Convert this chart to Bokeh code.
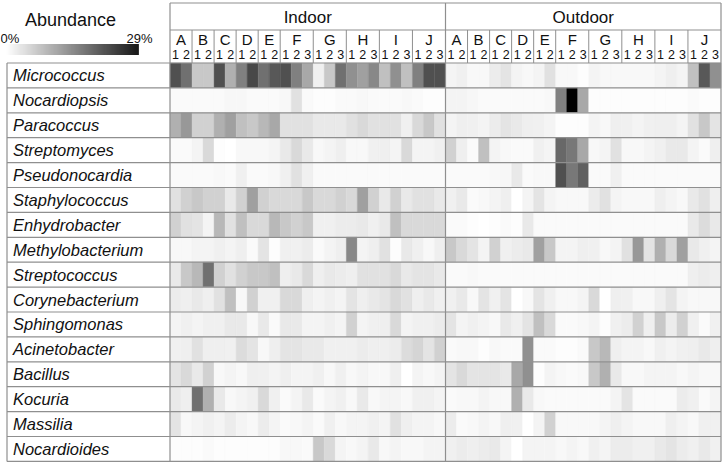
import numpy as np
from bokeh.plotting import figure
from bokeh.models import Range1d, ColumnDataSource, LinearColorMapper
from bokeh.transform import transform
from bokeh.core.properties import value
from bokeh.embed import file_html
from bokeh.resources import INLINE

# ---------------- data ----------------
environments = ["Indoor", "Outdoor"]
sites = ["A", "B", "C", "D", "E", "F", "G", "H", "I", "J"]
replicates = [2, 2, 2, 2, 2, 3, 3, 3, 3, 3]
scale_min, scale_max = 0, 29
scale_labels = ["0%", "29%"]
legend_title = "Abundance"

genera = ["Micrococcus", "Nocardiopsis", "Paracoccus", "Streptomyces", "Pseudonocardia",
          "Staphylococcus", "Enhydrobacter", "Methylobacterium", "Streptococcus",
          "Corynebacterium", "Sphingomonas", "Acinetobacter", "Bacillus", "Kocuria",
          "Massilia", "Nocardioides"]

# abundance (%) per sample: A1 A2 B1 B2 C1 C2 D1 D2 E1 E2 F1 F2 F3 G1 G2 G3 H1 H2 H3 I1 I2 I3 J1 J2 J3
micrococcus_in = [19.9, 16.3, 6.3, 6.3, 19.9, 9.0, 14.4, 20.8, 16.3, 19.0, 19.9, 14.4, 9.9, 1.7, 6.3, 16.3, 12.6, 10.8, 13.5, 7.2, 12.6, 7.2, 14.4, 19.9, 19.9]
micrococcus_out = [1.3, 1.7, 0.8, 0.8, 2.2, 3.1, 1.3, 0.8, 1.3, 3.5, 0.8, 0.8, 0.3, 1.3, 0.8, 0.8, 0.8, 0.8, 0.8, 1.3, 1.9, 1.3, 7.2, 19.0, 12.6]
nocardiopsis_in = [0.6, 0.6, 0.6, 0.6, 0.6, 1.0, 1.0, 0.6, 0.6, 0.6, 0.8, 3.5, 0.6, 0.3, 0.3, 0.6, 0.6, 0.8, 0.6, 0.6, 0.6, 0.8, 0.6, 0.3, 0.3]
nocardiopsis_out = [1.3, 1.3, 1.0, 0.6, 0.6, 0.6, 0.6, 0.6, 0.6, 0.8, 14.4, 29.0, 9.9, 0.3, 0.3, 0.3, 0.3, 0.3, 0.3, 0.3, 0.3, 0.3, 0.6, 0.3, 0.3]
paracoccus_in = [9.0, 11.7, 5.3, 5.3, 9.0, 10.8, 7.2, 6.3, 8.1, 9.9, 3.5, 3.5, 3.5, 2.6, 2.6, 2.6, 3.5, 4.4, 3.5, 3.5, 3.5, 1.7, 4.4, 6.3, 3.5]
paracoccus_out = [1.3, 1.9, 1.7, 1.3, 2.2, 3.1, 2.6, 1.9, 1.7, 1.3, 0.3, 0.3, 0.3, 1.3, 0.8, 1.9, 1.7, 1.3, 1.7, 1.9, 1.9, 1.3, 3.5, 6.3, 3.1]
streptomyces_in = [0.6, 0.6, 1.3, 4.4, 0.3, 0.1, 0.8, 0.8, 0.8, 1.3, 2.6, 4.4, 2.6, 0.8, 1.3, 1.9, 0.8, 0.8, 1.7, 1.9, 1.3, 4.4, 1.3, 1.3, 1.7]
streptomyces_out = [5.3, 1.9, 0.6, 7.2, 1.3, 0.8, 0.6, 0.6, 1.7, 1.3, 17.2, 15.4, 9.9, 0.8, 1.3, 3.5, 0.8, 0.8, 1.3, 1.7, 2.6, 2.6, 1.3, 0.6, 1.9]
pseudonocardia_in = [0.6, 0.6, 0.6, 0.6, 0.8, 0.6, 1.7, 0.6, 0.6, 0.8, 1.7, 3.5, 1.7, 0.6, 0.6, 0.6, 0.6, 0.6, 0.6, 0.6, 0.6, 0.6, 0.6, 0.6, 0.6]
pseudonocardia_out = [0.6, 0.6, 0.6, 0.6, 0.8, 1.0, 2.6, 0.6, 0.8, 0.8, 19.9, 15.4, 18.1, 0.6, 0.6, 1.7, 0.6, 0.6, 0.6, 0.6, 0.6, 0.6, 0.6, 0.6, 0.6]
staphylococcus_in = [3.5, 5.3, 6.3, 5.3, 5.3, 2.6, 5.3, 10.8, 5.3, 4.4, 4.4, 4.4, 6.3, 4.4, 4.4, 5.3, 4.4, 10.8, 5.3, 2.6, 5.3, 2.6, 3.5, 3.5, 2.6]
staphylococcus_out = [1.7, 2.6, 0.6, 0.8, 1.3, 1.9, 0.1, 1.3, 3.1, 1.3, 0.8, 0.8, 0.8, 2.2, 3.5, 1.3, 0.8, 0.8, 0.8, 1.9, 1.3, 0.8, 2.6, 3.5, 1.9]
enhydrobacter_in = [5.3, 3.5, 3.1, 1.3, 8.1, 3.5, 7.2, 4.4, 4.4, 8.1, 6.3, 5.3, 6.3, 1.7, 1.7, 2.2, 2.2, 2.6, 1.7, 2.6, 7.2, 4.4, 4.4, 4.4, 4.4]
enhydrobacter_out = [0.6, 0.6, 0.3, 0.1, 0.3, 0.6, 0.3, 2.6, 0.6, 0.6, 0.6, 0.6, 0.6, 0.6, 0.6, 0.6, 0.6, 0.6, 0.6, 0.6, 0.6, 0.6, 2.6, 4.0, 2.6]
methylobacterium_in = [0.8, 0.8, 1.3, 1.3, 1.7, 1.3, 1.9, 0.6, 3.1, 0.3, 1.7, 1.7, 2.2, 0.6, 1.3, 1.9, 13.5, 1.3, 1.9, 3.5, 0.3, 2.6, 1.7, 0.8, 1.9]
methylobacterium_out = [6.3, 4.4, 3.1, 1.3, 5.3, 1.7, 2.2, 2.6, 10.8, 6.3, 1.3, 1.3, 1.9, 1.7, 0.8, 1.3, 3.5, 11.7, 3.1, 9.0, 4.4, 10.8, 2.6, 1.7, 1.3]
streptococcus_in = [2.6, 6.3, 8.1, 16.3, 5.3, 3.5, 5.3, 6.3, 6.3, 7.2, 1.9, 2.6, 4.4, 1.9, 2.6, 2.2, 1.9, 3.5, 3.5, 3.5, 4.4, 2.6, 3.1, 3.1, 2.6]
streptococcus_out = [0.6, 0.6, 0.8, 0.6, 0.6, 0.6, 0.6, 0.6, 0.6, 0.6, 0.6, 0.6, 0.6, 0.6, 0.6, 0.6, 0.6, 0.6, 0.6, 0.6, 0.6, 0.6, 1.9, 2.2, 1.9]
corynebacterium_in = [2.2, 1.9, 2.6, 1.9, 3.5, 7.2, 0.8, 5.3, 1.7, 1.7, 4.4, 4.4, 1.9, 1.3, 1.7, 1.3, 3.1, 1.9, 2.6, 3.1, 4.4, 3.5, 1.9, 2.6, 1.7]
corynebacterium_out = [1.7, 2.6, 0.8, 3.1, 1.7, 3.1, 0.1, 0.8, 3.1, 1.7, 0.8, 0.8, 1.3, 4.4, 0.1, 1.9, 1.7, 0.8, 0.8, 1.9, 3.1, 1.3, 0.8, 0.8, 0.8]
sphingomonas_in = [1.3, 1.7, 1.3, 1.7, 1.7, 2.6, 2.6, 0.8, 2.6, 0.6, 2.6, 2.6, 1.3, 1.3, 1.7, 1.3, 5.3, 1.3, 1.7, 1.9, 4.4, 1.3, 1.7, 1.7, 2.2]
sphingomonas_out = [3.1, 1.3, 1.7, 1.3, 0.8, 2.6, 1.7, 3.1, 7.2, 4.4, 0.6, 0.6, 0.8, 1.3, 0.3, 1.7, 2.2, 5.3, 1.9, 6.3, 2.2, 5.3, 1.7, 0.6, 1.7]
acinetobacter_in = [1.7, 1.9, 3.5, 1.9, 1.9, 1.7, 4.0, 3.1, 0.8, 1.9, 3.1, 3.1, 2.6, 2.6, 1.7, 1.7, 1.7, 2.2, 1.9, 1.9, 2.2, 4.0, 4.8, 3.1, 5.3]
acinetobacter_out = [0.6, 0.8, 0.8, 0.3, 0.8, 0.6, 0.6, 12.6, 0.6, 0.6, 0.3, 0.3, 0.6, 6.3, 8.1, 1.9, 1.3, 1.3, 0.8, 1.7, 1.3, 1.7, 1.9, 2.6, 1.9]
bacillus_in = [3.1, 4.4, 2.6, 5.3, 0.8, 1.3, 0.8, 1.9, 1.7, 1.3, 1.9, 1.3, 1.3, 1.7, 0.8, 1.7, 0.8, 1.3, 0.8, 0.8, 1.9, 0.1, 1.3, 0.8, 1.3]
bacillus_out = [3.1, 4.4, 3.1, 3.1, 3.1, 2.6, 9.9, 12.6, 0.3, 1.3, 0.8, 0.6, 0.8, 6.3, 9.0, 2.6, 0.8, 0.8, 1.3, 1.3, 1.3, 0.8, 1.3, 0.8, 0.8]
kocuria_in = [2.6, 1.9, 16.3, 9.0, 2.6, 0.8, 1.3, 1.7, 4.4, 1.7, 0.6, 1.3, 2.6, 0.6, 1.3, 1.7, 0.8, 2.6, 0.8, 1.3, 1.3, 0.8, 1.7, 1.7, 1.3]
kocuria_out = [0.6, 0.8, 0.8, 1.3, 0.8, 0.8, 9.0, 2.6, 0.8, 0.6, 0.6, 0.6, 0.6, 0.6, 0.6, 1.3, 3.1, 0.6, 0.6, 0.6, 0.6, 2.2, 1.7, 0.6, 1.3]
massilia_in = [3.1, 0.8, 1.3, 1.7, 1.3, 2.2, 1.3, 0.8, 2.2, 1.3, 0.6, 0.8, 1.3, 0.6, 1.7, 0.8, 1.3, 1.3, 1.7, 1.3, 3.5, 1.9, 1.3, 1.3, 0.8]
massilia_out = [2.2, 0.6, 0.8, 1.3, 0.8, 1.9, 1.7, 0.1, 1.3, 5.3, 0.8, 0.8, 0.8, 0.8, 1.3, 1.9, 1.3, 0.8, 0.8, 0.8, 1.9, 1.3, 0.8, 1.7, 1.7]
nocardioides_in = [0.3, 0.3, 0.3, 0.6, 0.3, 0.3, 0.3, 0.3, 0.3, 0.3, 0.8, 0.8, 0.6, 6.3, 4.4, 1.3, 0.8, 1.3, 2.6, 0.8, 1.3, 0.8, 0.8, 1.3, 1.3]
nocardioides_out = [1.7, 2.2, 1.9, 2.2, 2.6, 1.3, 0.1, 1.3, 1.3, 1.3, 0.8, 1.3, 0.8, 1.7, 1.3, 2.2, 2.2, 1.7, 1.7, 2.6, 3.1, 2.2, 1.7, 2.6, 1.7]

rows_in = [micrococcus_in, nocardiopsis_in, paracoccus_in, streptomyces_in, pseudonocardia_in,
           staphylococcus_in, enhydrobacter_in, methylobacterium_in, streptococcus_in,
           corynebacterium_in, sphingomonas_in, acinetobacter_in, bacillus_in, kocuria_in,
           massilia_in, nocardioides_in]
rows_out = [micrococcus_out, nocardiopsis_out, paracoccus_out, streptomyces_out, pseudonocardia_out,
            staphylococcus_out, enhydrobacter_out, methylobacterium_out, streptococcus_out,
            corynebacterium_out, sphingomonas_out, acinetobacter_out, bacillus_out, kocuria_out,
            massilia_out, nocardioides_out]

# ---------------- layout (reference pixel space) ----------------
W, H = 723, 464
X_LAB = 6.5            # left edge of the label column
X0, X1 = 169.5, 720.5  # heatmap x extent
Y_TOP, Y_ENV, Y0 = 2.5, 29.5, 62.5
RH = 24.9
n_per_env = sum(replicates)
n_cols = n_per_env * len(environments)
CW = (X1 - X0) / n_cols
Y_BOT = Y0 + RH * len(genera)
FONT = "Liberation Sans"
LINE = "#8f8f8f"
TXT = "#111111"

palette = ["#%02x%02x%02x" % (v, v, v) for v in range(255, -1, -1)]
mapper = LinearColorMapper(palette=palette, low=scale_min, high=scale_max)

p = figure(width=W, height=H, x_range=Range1d(0, W), y_range=Range1d(H, 0),
           output_backend="svg", toolbar_location=None, min_border=0,
           x_axis_location=None, y_axis_location=None)
p.grid.visible = False
p.outline_line_color = None
p.background_fill_color = "white"
p.border_fill_color = "white"

# heat cells
left, right, top, bottom, val = [], [], [], [], []
for r in range(len(genera)):
    full = rows_in[r] + rows_out[r]
    for c, v in enumerate(full):
        left.append(X0 + c * CW)
        right.append(X0 + (c + 1) * CW)
        top.append(Y0 + r * RH)
        bottom.append(Y0 + (r + 1) * RH)
        val.append(v)
cells = ColumnDataSource(dict(left=left, right=right, top=top, bottom=bottom, val=val))
p.quad(left="left", right="right", top="top", bottom="bottom", source=cells,
       fill_color=transform("val", mapper), line_color=transform("val", mapper), line_width=0.4)

# row separators (label column + heatmap)
ys = [Y0 + k * RH for k in range(len(genera) + 1)]
p.segment(x0=[X_LAB] * len(ys), x1=[X1] * len(ys), y0=ys, y1=ys, line_color=LINE, line_width=1.2)

# vertical borders
env_x = [X0 + e * n_per_env * CW for e in range(len(environments) + 1)]
p.segment(x0=[X_LAB], x1=[X_LAB], y0=[Y0], y1=[Y_BOT], line_color=LINE, line_width=1.2)
p.segment(x0=env_x, x1=env_x, y0=[Y_TOP] * len(env_x), y1=[Y_BOT] * len(env_x), line_color=LINE, line_width=1.2)
# header horizontals
p.segment(x0=[X0, X0], x1=[X1, X1], y0=[Y_TOP, Y_ENV], y1=[Y_TOP, Y_ENV], line_color=LINE, line_width=1.2)

# header texts
env_cx, site_cx, site_sep, rep_cx, rep_lab = [], [], [], [], []
for e, env in enumerate(environments):
    base = e * n_per_env
    env_cx.append(X0 + (base + n_per_env / 2) * CW)
    c = base
    for s, nrep in zip(sites, replicates):
        site_cx.append(X0 + (c + nrep / 2) * CW)
        if c != base:
            site_sep.append(X0 + c * CW)
        for k in range(nrep):
            rep_cx.append(X0 + (c + k + 0.5) * CW)
            rep_lab.append(str(k + 1))
        c += nrep

p.segment(x0=site_sep, x1=site_sep, y0=[Y_ENV] * len(site_sep), y1=[Y0] * len(site_sep),
          line_color=LINE, line_width=1.0)

p.text(x=env_cx, y=[16.5] * len(env_cx), text=environments, text_font=value(FONT),
       text_font_size="17px", text_align="center", text_baseline="middle", text_color=TXT)
p.text(x=site_cx, y=[38.5] * len(site_cx), text=sites * len(environments), text_font=value(FONT),
       text_font_size="15px", text_align="center", text_baseline="middle", text_color=TXT)
p.text(x=rep_cx, y=[53.5] * len(rep_cx), text=rep_lab, text_font=value(FONT),
       text_font_size="12.5px", text_align="center", text_baseline="middle", text_color=TXT)

# genus labels
p.text(x=[12.5] * len(genera), y=[Y0 + (r + 0.5) * RH for r in range(len(genera))], text=genera,
       text_font=value(FONT), text_font_size="16.5px", text_font_style="italic",
       text_align="left", text_baseline="middle", text_color=TXT)

# legend
p.text(x=[70], y=[19.5], text=[legend_title], text_font=value(FONT), text_font_size="18px",
       text_align="center", text_baseline="middle", text_color=TXT)
p.text(x=[0], y=[37.5], text=[scale_labels[0]], text_font=value(FONT), text_font_size="13px",
       text_align="left", text_baseline="middle", text_color=TXT)
p.text(x=[152], y=[37.5], text=[scale_labels[1]], text_font=value(FONT), text_font_size="13px",
       text_align="right", text_baseline="middle", text_color=TXT)

n_steps = 133
steps = np.linspace(scale_min, scale_max, n_steps)
bx0, bx1, by0, by1 = 5.0, 138.0, 43.5, 54.5
bw = (bx1 - bx0) / n_steps
grad = ColumnDataSource(dict(left=[bx0 + i * bw for i in range(n_steps)],
                             right=[bx0 + (i + 1) * bw + 0.3 for i in range(n_steps)],
                             top=[by0] * n_steps, bottom=[by1] * n_steps, val=list(steps)))
p.quad(left="left", right="right", top="top", bottom="bottom", source=grad,
       fill_color=transform("val", mapper), line_color=None)

open("out.html", "w").write(file_html(p, INLINE))
